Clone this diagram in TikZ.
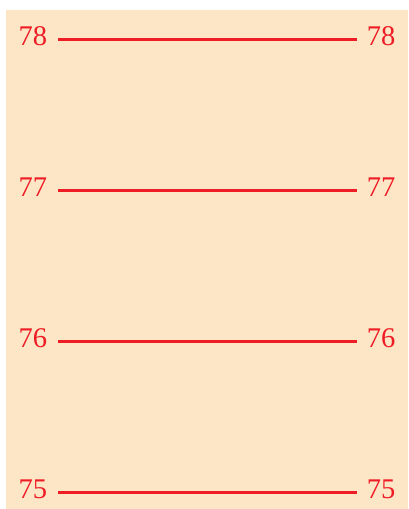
\documentclass[tikz,border=0pt]{standalone}
\usepackage{fontspec}
\setmainfont{Liberation Serif}
\definecolor{bgbeige}{HTML}{FDE6C6}
\definecolor{lred}{HTML}{EE1C25}
\begin{document}
\begin{tikzpicture}[x=1pt,y=-1pt,
  lbl/.style={text=lred,font=\fontsize{28.5}{28.5}\selectfont,inner sep=0pt,anchor=mid},
  iso/.style={draw=lred,line width=3pt}]
\useasboundingbox (0,0) rectangle (408,509);
\fill[bgbeige] (6,10) rectangle (408,509);
\foreach \v/\y in {78/39,77/190,76/341,75/492}{
  \coordinate (l\v) at (58,\y);
  \coordinate (r\v) at (357,\y);
  \draw[iso] (l\v) -- (r\v);
  \node[lbl] (a\v) at (33,\y+4.5) {\v};
  \node[lbl] (b\v) at (381,\y+4.5) {\v};
}
\end{tikzpicture}
\end{document}
